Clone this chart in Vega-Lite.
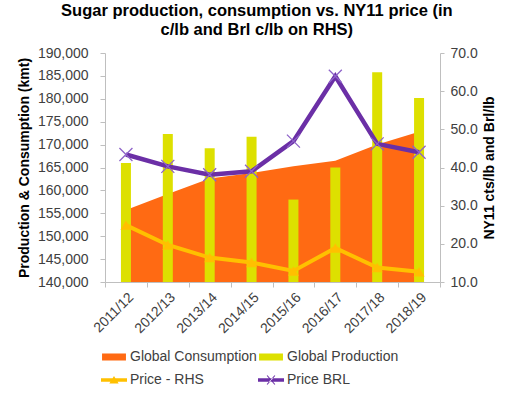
{
  "$schema": "https://vega.github.io/schema/vega-lite/v6.json",
  "width": 335,
  "height": 229,
  "autosize": {"type": "none"},
  "padding": {"left": 105, "top": 53, "right": 65, "bottom": 111},
  "config": {
    "view": {"stroke": null},
    "font": "Liberation Sans",
    "axis": {"grid": false, "domainColor": "#BFBFBF", "tickColor": "#BFBFBF", "labelFontSize": 14, "labelColor": "#404040", "titleFontSize": 14, "titleFontWeight": "bold", "titleColor": "#000000"},
    "legend": {"orient": "none", "legendX": -4, "legendY": 291, "direction": "horizontal", "columns": 2, "padding": 0, "symbolSize": 676, "symbolOpacity": 1, "symbolStrokeWidth": 0, "labelFontSize": 14, "labelColor": "#404040", "labelOffset": 3, "columnPadding": 1, "rowPadding": 3}
  },
  "title": {
    "text": ["Sugar production, consumption vs. NY11 price (in", "c/lb and Brl c/lb on RHS)"],
    "fontSize": 16.5,
    "fontWeight": "bold",
    "color": "#000000",
    "anchor": "middle",
    "frame": "bounds",
    "offset": 8,
    "lineHeight": 19
  },
  "data": {
    "values": [
      {"year": "2011/12", "series": "Global Consumption", "value": 155700},
      {"year": "2012/13", "series": "Global Consumption", "value": 159200},
      {"year": "2013/14", "series": "Global Consumption", "value": 162600},
      {"year": "2014/15", "series": "Global Consumption", "value": 163800},
      {"year": "2015/16", "series": "Global Consumption", "value": 165300},
      {"year": "2016/17", "series": "Global Consumption", "value": 166500},
      {"year": "2017/18", "series": "Global Consumption", "value": 170000},
      {"year": "2018/19", "series": "Global Consumption", "value": 172800},
      {"year": "2011/12", "series": "Global Production", "value": 166000},
      {"year": "2012/13", "series": "Global Production", "value": 172300},
      {"year": "2013/14", "series": "Global Production", "value": 169200},
      {"year": "2014/15", "series": "Global Production", "value": 171700},
      {"year": "2015/16", "series": "Global Production", "value": 158000},
      {"year": "2016/17", "series": "Global Production", "value": 165000},
      {"year": "2017/18", "series": "Global Production", "value": 185800},
      {"year": "2018/19", "series": "Global Production", "value": 180200},
      {"year": "2011/12", "series": "Price - RHS", "value": 24.9},
      {"year": "2012/13", "series": "Price - RHS", "value": 19.7},
      {"year": "2013/14", "series": "Price - RHS", "value": 16.4},
      {"year": "2014/15", "series": "Price - RHS", "value": 15.1},
      {"year": "2015/16", "series": "Price - RHS", "value": 12.9},
      {"year": "2016/17", "series": "Price - RHS", "value": 18.9},
      {"year": "2017/18", "series": "Price - RHS", "value": 13.8},
      {"year": "2018/19", "series": "Price - RHS", "value": 12.7},
      {"year": "2011/12", "series": "Price BRL", "value": 43.4},
      {"year": "2012/13", "series": "Price BRL", "value": 40.3},
      {"year": "2013/14", "series": "Price BRL", "value": 38.1},
      {"year": "2014/15", "series": "Price BRL", "value": 39.0},
      {"year": "2015/16", "series": "Price BRL", "value": 46.9},
      {"year": "2016/17", "series": "Price BRL", "value": 63.9},
      {"year": "2017/18", "series": "Price BRL", "value": 46.2},
      {"year": "2018/19", "series": "Price BRL", "value": 44.0}
    ]
  },
  "encoding": {
    "x": {
      "field": "year",
      "type": "nominal",
      "sort": null,
      "title": null,
      "scale": {"paddingInner": 0, "paddingOuter": 0},
      "axis": {"labelAngle": -45, "tickBand": "extent", "tickSize": 5, "labelPadding": 3, "domainColor": "#BFBFBF"}
    }
  },
  "layer": [
    {
      "encoding": {
        "y": {
          "field": "value",
          "type": "quantitative",
          "scale": {"domain": [140000, 190000], "nice": false, "zero": false},
          "axis": {"title": "Production & Consumption (kmt)", "format": ",d", "values": [140000, 145000, 150000, 155000, 160000, 165000, 170000, 175000, 180000, 185000, 190000], "tickSize": 5, "labelPadding": 12, "titlePadding": 6}
        }
      },
      "layer": [
        {
          "transform": [{"filter": "datum.series === 'Global Consumption'"}],
          "mark": {"type": "area", "opacity": 1},
          "encoding": {
            "y2": {"datum": 140000},
            "color": {
              "field": "series",
              "type": "nominal",
              "title": null,
              "scale": {"domain": ["Global Consumption", "Global Production", "Price - RHS", "Price BRL"], "range": ["#FF6A13", "#DDE000", "#FFC000", "#6B2FA6"]}
            }
          }
        },
        {
          "transform": [{"filter": "datum.series === 'Global Production'"}],
          "mark": {"type": "bar", "size": 10},
          "encoding": {
            "y2": {"datum": 140000},
            "color": {"field": "series", "type": "nominal", "title": null}
          }
        },
        {
          "transform": [{"filter": "datum.year === '2011/12'"}],
          "mark": {"type": "point", "filled": true, "opacity": 0, "clip": true},
          "encoding": {
            "color": {"field": "series", "type": "nominal", "title": null},
            "shape": {
              "field": "series",
              "type": "nominal",
              "title": null,
              "scale": {"domain": ["Global Consumption", "Global Production", "Price - RHS", "Price BRL"], "range": ["M-0.92,-0.27H0.92V0.27H-0.92Z", "M-0.92,-0.27H0.92V0.27H-0.92Z", "M-1,-0.13H1V0.13H-1Z M0,-0.3L0.36,0.27L-0.36,0.27Z", "M-1,-0.13H1V0.13H-1Z M-0.33,-0.33L-0.27,-0.37L0.33,0.33L0.27,0.37Z M0.33,-0.33L0.27,-0.37L-0.33,0.33L-0.27,0.37Z"]}
            }
          }
        }
      ]
    },
    {
      "encoding": {
        "y": {
          "field": "value",
          "type": "quantitative",
          "scale": {"domain": [10, 70], "nice": false, "zero": false},
          "axis": {"orient": "right", "title": "NY11 cts/lb and Brl/lb", "format": ".1f", "values": [10, 20, 30, 40, 50, 60, 70], "tickSize": 4, "labelPadding": 6, "titlePadding": 5, "titleAngle": 270, "titleBaseline": "top"}
        }
      },
      "layer": [
        {
          "transform": [{"filter": "datum.series === 'Price - RHS'"}],
          "mark": {"type": "line", "strokeWidth": 4},
          "encoding": {"color": {"field": "series", "type": "nominal", "title": null}}
        },
        {
          "transform": [{"filter": "datum.series === 'Price BRL'"}],
          "mark": {"type": "line", "strokeWidth": 4.5},
          "encoding": {"color": {"field": "series", "type": "nominal", "title": null}}
        },
        {
          "transform": [{"filter": "datum.series === 'Price - RHS'"}],
          "mark": {"type": "point", "shape": "triangle-up", "filled": true, "size": 120, "color": "#FFC000", "opacity": 1}
        },
        {
          "transform": [{"filter": "datum.series === 'Price BRL'"}],
          "mark": {"type": "point", "shape": "M-1,-1L1,1M-1,1L1,-1", "filled": false, "size": 169, "stroke": "#8E63C9", "strokeWidth": 1.3, "opacity": 1}
        }
      ]
    }
  ],
  "resolve": {"scale": {"y": "independent"}}
}
